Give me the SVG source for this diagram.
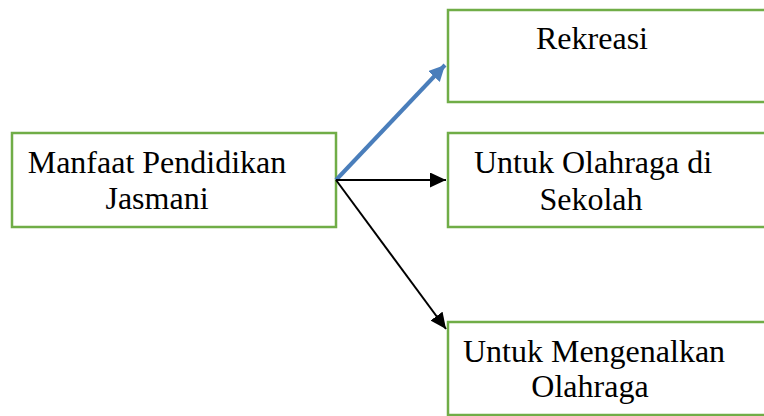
<svg xmlns="http://www.w3.org/2000/svg" width="764" height="416" viewBox="0 0 764 416">
<style>
.box{fill:#fff;stroke:#70AD47;stroke-width:2.5}
.t{font-family:"Liberation Serif","Times New Roman",serif;font-size:32px;fill:#000;text-anchor:middle}
</style>
<defs>
<marker id="ab" markerUnits="userSpaceOnUse" markerWidth="20" markerHeight="20" refX="16" refY="7.5" orient="auto">
<path d="M0,0 L16,7.5 L0,15 Z" fill="#000"/>
</marker>
<marker id="au" markerUnits="userSpaceOnUse" markerWidth="22" markerHeight="22" refX="16" refY="8" orient="auto">
<path d="M0,0 L16,8 L0,16 Z" fill="#4A7EBB"/>
</marker>
</defs>
<rect width="764" height="416" fill="#fff"/>
<g id="n-manfaat">
<rect class="box" x="12" y="133" width="324" height="94"/>
<text class="t" x="157" y="173">Manfaat Pendidikan</text>
<text class="t" x="157" y="209">Jasmani</text>
</g>
<g id="n-rekreasi">
<rect class="box" x="448" y="10" width="330" height="92"/>
<text class="t" x="592" y="49">Rekreasi</text>
</g>
<g id="n-sekolah">
<rect class="box" x="448" y="133" width="330" height="94"/>
<text class="t" x="593" y="173">Untuk Olahraga di</text>
<text class="t" x="591" y="210">Sekolah</text>
</g>
<g id="n-mengenalkan">
<rect class="box" x="448" y="322" width="330" height="93"/>
<text class="t" x="594" y="362">Untuk Mengenalkan</text>
<text class="t" x="590" y="397">Olahraga</text>
</g>
<g id="connectors">
<line x1="336" y1="180" x2="445" y2="65" stroke="#4A7EBB" stroke-width="4" marker-end="url(#au)"/>
<line x1="336" y1="180" x2="446" y2="180" stroke="#000" stroke-width="2" marker-end="url(#ab)"/>
<line x1="336" y1="180" x2="446" y2="329" stroke="#000" stroke-width="2" marker-end="url(#ab)"/>
</g>
</svg>
